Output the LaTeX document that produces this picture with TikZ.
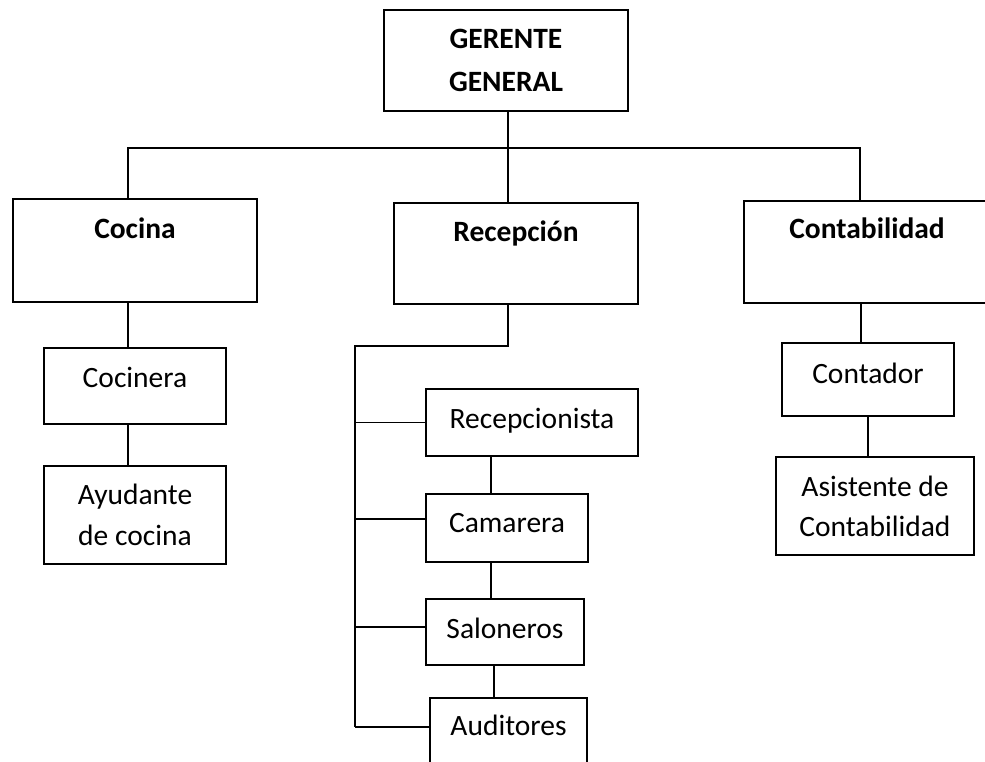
\documentclass[tikz,border=0pt]{standalone}
\usepackage{fontspec}
\setmainfont{Carlito}
\tikzset{
  box/.style={draw, rectangle, line width=1.8pt, inner sep=0pt, outer sep=0pt, anchor=north west, align=center},
  lbl/.style={anchor=base, inner sep=0pt},
  conn/.style={line width=1.8pt},
}
\begin{document}
\begin{tikzpicture}[x=1pt,y=-1pt, font=\fontsize{29.5}{41}\selectfont]
\clip (0,0) rectangle (985,761);
% boxes
\node[box, minimum width=244, minimum height=101, font=\fontsize{29.5}{43}\selectfont\bfseries] (gg) at (384,10) {GERENTE\\GENERAL};
\node[box, minimum width=244, minimum height=103] (cocina) at (13,199) {};
\node[box, minimum width=244, minimum height=101] (recep) at (394,203) {};
\node[box, minimum width=246, minimum height=102] (conta) at (744,201) {};
\node[box, minimum width=182, minimum height=76] (cocinera) at (44,348) {};
\node[box, minimum width=182, minimum height=98] (ayudante) at (44,466) {Ayudante\\de cocina};
\node[box, minimum width=172, minimum height=73] (contador) at (782,343) {};
\node[box, minimum width=198, minimum height=98, font=\fontsize{29.5}{40}\selectfont] (asistente) at (776,457) {Asistente de\\Contabilidad};
\node[box, minimum width=212, minimum height=67] (recepcionista) at (426,389) {};
\node[box, minimum width=162, minimum height=68] (camarera) at (426,494) {};
\node[box, minimum width=158, minimum height=66] (saloneros) at (426,599) {};
\node[box, minimum width=157, minimum height=120] (auditores) at (430,698) {};
% texts
\node[lbl, font=\fontsize{29.5}{41}\selectfont\bfseries] (cocinaT) at ([yshift=-39pt]cocina.north) {Cocina};
\node[lbl, font=\fontsize{29.5}{41}\selectfont\bfseries] (recepT) at ([yshift=-38pt]recep.north) {Recepción};
\node[lbl, font=\fontsize{29.5}{41}\selectfont\bfseries] (contaT) at ([yshift=-37pt]conta.north) {Contabilidad};
\node[lbl] (cocineraT) at ([yshift=-39pt]cocinera.north) {Cocinera};
\node[lbl] (contadorT) at ([yshift=-40pt]contador.north) {Contador};
\node[lbl] (recepcionistaT) at ([yshift=-39pt]recepcionista.north) {Recepcionista};
\node[lbl] (camareraT) at ([yshift=-38pt]camarera.north) {Camarera};
\node[lbl] (salonerosT) at ([yshift=-39pt]saloneros.north) {Saloneros};
\node[lbl] (auditoresT) at ([yshift=-37pt]auditores.north) {Auditores};
% junctions
\coordinate (jL) at (128,148);
\coordinate (jR) at (860,148);
\coordinate (rb) at (508,346);
\coordinate (spTop) at (355,346);
\coordinate (spBot) at (355,727);
\coordinate (camW) at ([yshift=9pt]camarera.west);
\coordinate (salW) at ([yshift=5pt]saloneros.west);
\coordinate (c1) at ([xshift=-16pt]camarera.north);
\coordinate (c2) at ([xshift=-14pt]saloneros.north);
\coordinate (c3) at ([xshift=-14.5pt]auditores.north);
\coordinate (k1) at ([xshift=-7pt]cocinera.north);
\coordinate (k2) at ([xshift=-7pt]ayudante.north);
\coordinate (t1) at ([xshift=-7pt]contador.north);
\coordinate (t2) at ([xshift=-7pt]asistente.north);
% connectors
\draw[conn] (jL |- cocina.north) -- (jL) -- (jR) -- (jR |- conta.north);
\draw[conn] (rb |- gg.south) -- (rb |- recep.north);
\draw[conn] (rb |- recep.south) -- (rb) -- (spTop) -- (spBot);
\draw[conn] (spTop |- recepcionista.west) -- (recepcionista.west);
\draw[conn] (spTop |- camW) -- (camW);
\draw[conn] (spTop |- salW) -- (salW);
\draw[conn] (spBot) -- (spBot -| auditores.west);
\draw[conn] (c1) -- (c1 |- recepcionista.south);
\draw[conn] (c2) -- (c2 |- camarera.south);
\draw[conn] (c3) -- (c3 |- saloneros.south);
\draw[conn] (k1) -- (k1 |- cocina.south);
\draw[conn] (k2) -- (k2 |- cocinera.south);
\draw[conn] (t1) -- (t1 |- conta.south);
\draw[conn] (t2) -- (t2 |- contador.south);
\end{tikzpicture}
\end{document}
